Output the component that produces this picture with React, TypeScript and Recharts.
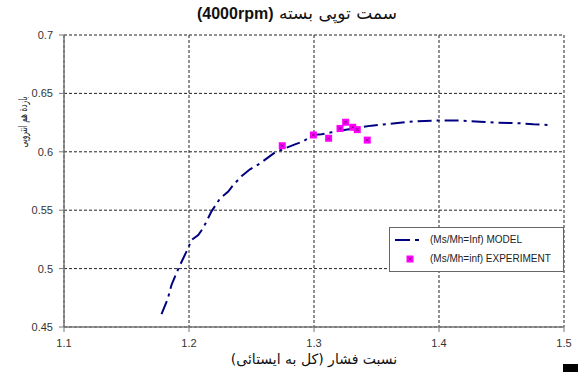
import {
  ComposedChart,
  Line,
  Scatter,
  XAxis,
  YAxis,
  CartesianGrid,
} from 'recharts';

// model curve (Ms/Mh = Inf)
const modelX = [
  1.178, 1.183, 1.186, 1.1915, 1.1986, 1.202, 1.2074, 1.2115, 1.218, 1.2248,
  1.2314, 1.2354, 1.242, 1.2488, 1.2568, 1.2688, 1.2848, 1.2915, 1.299, 1.306,
  1.314, 1.329, 1.346, 1.3595, 1.3768, 1.3968, 1.4155, 1.4328, 1.446, 1.4635,
  1.4755, 1.488,
];
const modelY = [
  0.461, 0.474, 0.486, 0.5, 0.516, 0.5245, 0.5288, 0.535, 0.549, 0.56,
  0.566, 0.5716, 0.579, 0.585, 0.59, 0.5995, 0.6064, 0.609, 0.6144, 0.615,
  0.6167, 0.6195, 0.6224, 0.6239, 0.6258, 0.6267, 0.6267, 0.6258, 0.625, 0.6245,
  0.6235, 0.623,
];

// measured points
const expX = [1.2746, 1.2995, 1.3117, 1.3208, 1.3253, 1.331, 1.3346, 1.3426];
const expY = [0.6052, 0.6144, 0.6116, 0.62, 0.6253, 0.621, 0.619, 0.61];

const xTicks = [1.1, 1.2, 1.3, 1.4, 1.5];
const yTicks = [0.45, 0.5, 0.55, 0.6, 0.65, 0.7];

const modelData = modelX.map((x, i) => ({ x, y: modelY[i] }));
const expData = expX.map((x, i) => ({ x, y: expY[i] }));

const LINE_COLOR = '#000080';
const MARK_COLOR = '#ff00ff';
const tickStyle = { fontSize: 11, fill: '#333', fontFamily: 'Liberation Sans, Arial, sans-serif' };

function Marker(props: any) {
  const { cx, cy } = props;
  if (cx == null || cy == null) return null;
  return (
    <g>
      <rect x={cx - 3.5} y={cy - 3.5} width={7} height={7} fill={MARK_COLOR} />
      <path
        d={`M${cx - 1.5},${cy - 1.5}L${cx + 1.5},${cy + 1.5}M${cx + 1.5},${cy - 1.5}L${cx - 1.5},${cy + 1.5}`}
        stroke="#7a007a"
        strokeWidth={0.8}
      />
    </g>
  );
}

function LegendBox() {
  return (
    <div
      style={{
        position: 'absolute',
        left: 389,
        top: 227,
        width: 175,
        height: 45,
        border: '1px solid #666',
        background: '#fff',
        fontFamily: 'Liberation Sans, Arial, sans-serif',
        fontSize: 10,
        color: '#222',
        boxSizing: 'border-box',
      }}
    >
      <svg width={40} height={45} style={{ position: 'absolute', left: 0, top: 0 }}>
        <line x1={5} x2={20} y1={12} y2={12} stroke={LINE_COLOR} strokeWidth={2} />
        <line x1={25} x2={29} y1={12} y2={12} stroke={LINE_COLOR} strokeWidth={2} />
        <Marker cx={20} cy={31} />
      </svg>
      <div style={{ position: 'absolute', left: 40, top: 6, whiteSpace: 'nowrap' }}>
        (Ms/Mh=Inf) MODEL
      </div>
      <div style={{ position: 'absolute', left: 40, top: 25, whiteSpace: 'nowrap' }}>
        (Ms/Mh=inf) EXPERIMENT
      </div>
    </div>
  );
}

export default function App() {
  return (
    <div
      style={{
        position: 'absolute',
        left: 0,
        top: 0,
        width: 578,
        height: 374,
        background: '#fff',
        overflow: 'hidden',
      }}
    >
      <ComposedChart
        width={578}
        height={374}
        margin={{ top: 35, right: 14, bottom: 17, left: 4 }}
      >
        <CartesianGrid stroke="#222" strokeDasharray="3 2" strokeWidth={1} />
        <XAxis
          type="number"
          dataKey="x"
          domain={[1.1, 1.5]}
          ticks={xTicks}
          allowDataOverflow
          height={30}
          axisLine={{ stroke: '#777', strokeWidth: 1.5 }}
          tickLine={{ stroke: '#777' }}
          tickSize={5}
          tickMargin={7}
          tick={tickStyle}
        />
        <YAxis
          type="number"
          dataKey="y"
          domain={[0.45, 0.7]}
          ticks={yTicks}
          allowDataOverflow
          width={60}
          axisLine={{ stroke: '#777', strokeWidth: 1.5 }}
          tickLine={{ stroke: '#777' }}
          tickSize={5}
          tickMargin={6}
          tick={tickStyle}
        />
        <Line
          data={modelData}
          dataKey="y"
          type="linear"
          stroke={LINE_COLOR}
          strokeWidth={2}
          strokeDasharray="14 5 3 5"
          dot={false}
          activeDot={false}
          isAnimationActive={false}
        />
        <Scatter
          data={expData}
          dataKey="y"
          shape={Marker}
          isAnimationActive={false}
        />
      </ComposedChart>

      <div
        dir="rtl"
        style={{
          position: 'absolute',
          left: 0,
          width: 594,
          top: 2,
          lineHeight: '22px',
          textAlign: 'center',
          fontFamily: 'DejaVu Sans, sans-serif',
          fontSize: 17,
          color: '#111',
          whiteSpace: 'nowrap',
        }}
      >
        سمت توپی بسته{' '}
        <span style={{ fontFamily: 'Liberation Sans, Arial, sans-serif', fontSize: 16, fontWeight: 700 }}>
          (4000rpm)
        </span>
      </div>

      <div
        dir="rtl"
        style={{
          position: 'absolute',
          left: 0,
          width: 628,
          top: 350,
          lineHeight: '18px',
          textAlign: 'center',
          fontFamily: 'DejaVu Sans, sans-serif',
          fontSize: 14,
          color: '#111',
          whiteSpace: 'nowrap',
        }}
      >
        نسبت فشار (کل به ایستائی)
      </div>

      <div
        dir="rtl"
        style={{
          position: 'absolute',
          left: 23 - 45,
          top: 122 - 8,
          width: 90,
          height: 16,
          lineHeight: '16px',
          textAlign: 'center',
          transform: 'rotate(-90deg) scaleX(0.62)',
          fontFamily: 'DejaVu Sans, sans-serif',
          fontSize: 12,
          color: '#222',
          whiteSpace: 'nowrap',
        }}
      >
        بازدة هم انتروپی
      </div>

      <LegendBox />

      <div
        style={{
          position: 'absolute',
          left: 563,
          top: 364,
          width: 15,
          height: 8,
          background: '#000',
        }}
      />
    </div>
  );
}
